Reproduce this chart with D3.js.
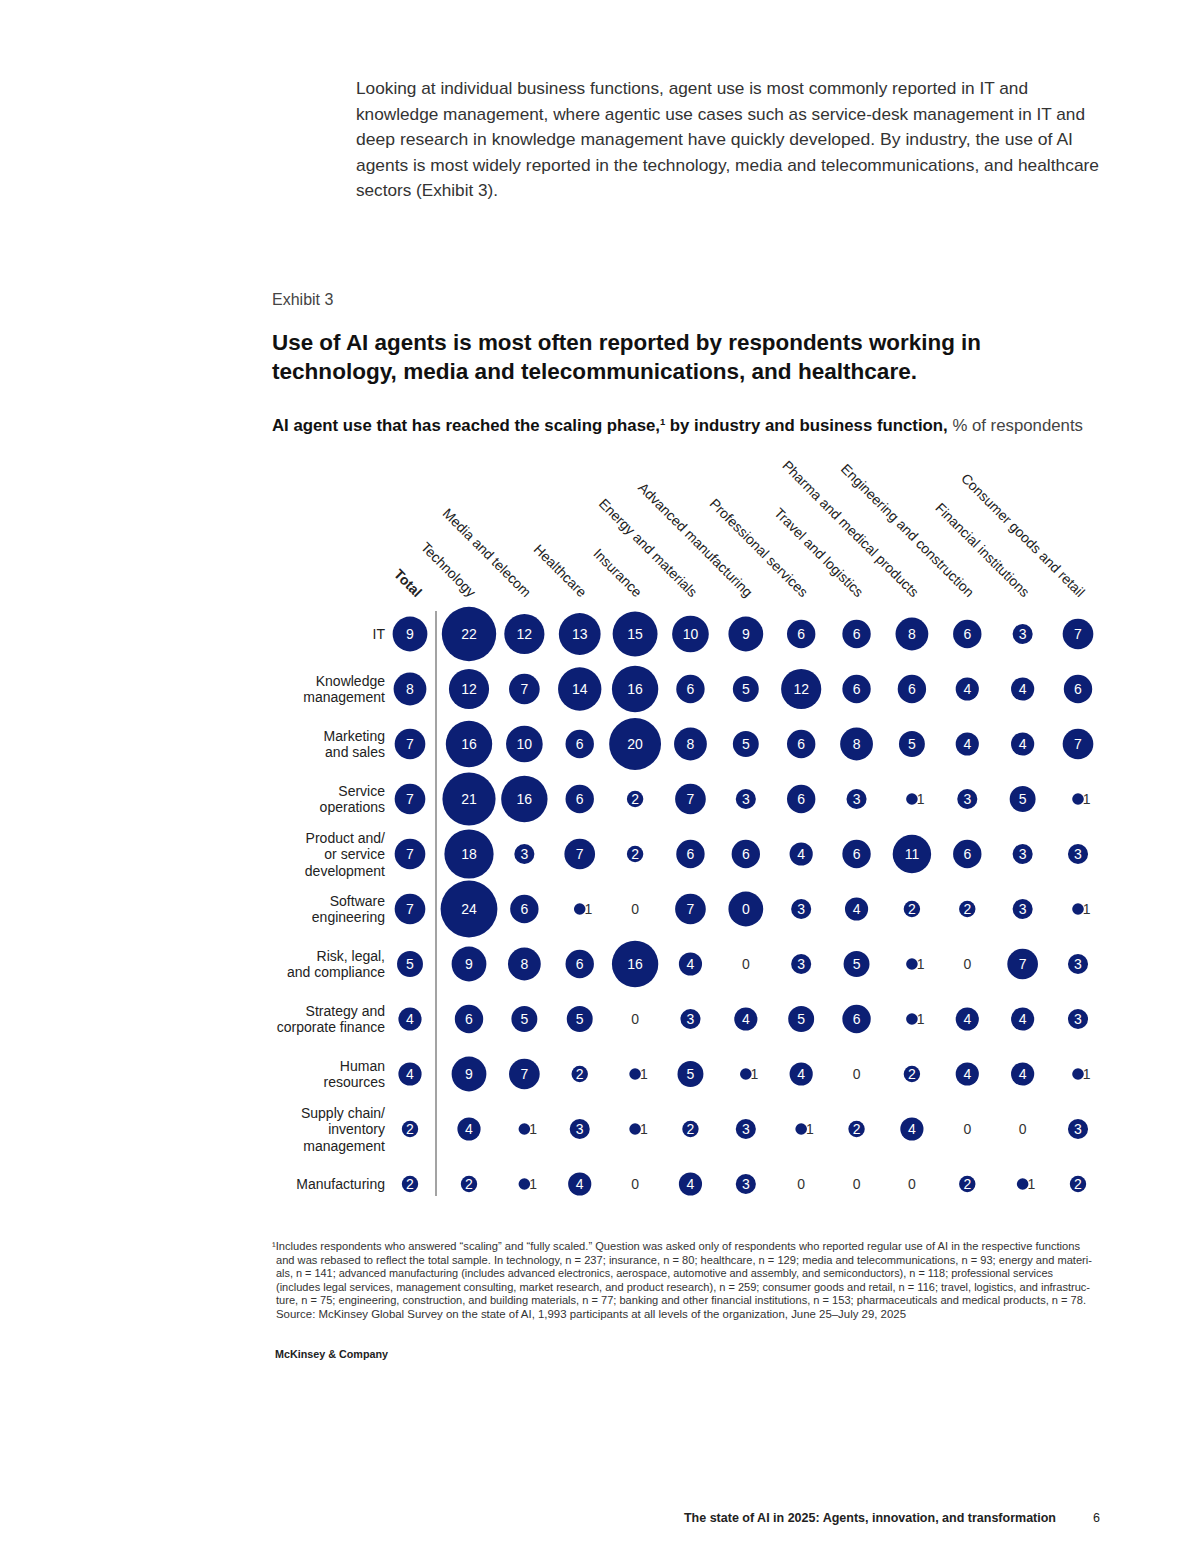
<!DOCTYPE html>
<html>
<head>
<meta charset="utf-8">
<script src="https://cdn.jsdelivr.net/npm/d3@7"></script>
<style>
  body { margin: 0; background: #fff; }
  svg { display: block; font-family: "Liberation Sans", Arial, sans-serif; }
</style>
</head>
<body>
<svg width="1200" height="1555"></svg>
<script>
// industries (columns) and business functions (rows)
const industries = ["Total", "Technology", "Media and telecom", "Healthcare", "Insurance",
  "Energy and materials", "Advanced manufacturing", "Professional services",
  "Travel and logistics", "Pharma and medical products", "Engineering and construction",
  "Financial institutions", "Consumer goods and retail"];

const functions = [
  ["IT"],
  ["Knowledge", "management"],
  ["Marketing", "and sales"],
  ["Service", "operations"],
  ["Product and/", "or service", "development"],
  ["Software", "engineering"],
  ["Risk, legal,", "and compliance"],
  ["Strategy and", "corporate finance"],
  ["Human", "resources"],
  ["Supply chain/", "inventory", "management"],
  ["Manufacturing"]
];

// % of respondents, one array per function, in industry order
const itVals        = [9, 22, 12, 13, 15, 10, 9, 6, 6, 8, 6, 3, 7];
const knowledgeVals = [8, 12, 7, 14, 16, 6, 5, 12, 6, 6, 4, 4, 6];
const marketingVals = [7, 16, 10, 6, 20, 8, 5, 6, 8, 5, 4, 4, 7];
const serviceVals   = [7, 21, 16, 6, 2, 7, 3, 6, 3, 1, 3, 5, 1];
const productVals   = [7, 18, 3, 7, 2, 6, 6, 4, 6, 11, 6, 3, 3];
const softwareVals  = [7, 24, 6, 1, 0, 7, 9, 3, 4, 2, 2, 3, 1];
const riskVals      = [5, 9, 8, 6, 16, 4, 0, 3, 5, 1, 0, 7, 3];
const strategyVals  = [4, 6, 5, 5, 0, 3, 4, 5, 6, 1, 4, 4, 3];
const hrVals        = [4, 9, 7, 2, 1, 5, 1, 4, 0, 2, 4, 4, 1];
const supplyVals    = [2, 4, 1, 3, 1, 2, 3, 1, 2, 4, 0, 0, 3];
const manufVals     = [2, 2, 1, 4, 0, 4, 3, 0, 0, 0, 2, 1, 2];
const values = [itVals, knowledgeVals, marketingVals, serviceVals, productVals, softwareVals,
  riskVals, strategyVals, hrVals, supplyVals, manufVals];

// printed label differs from bubble size in the original (software eng. / adv. manufacturing)
const labelOverrides = {"5-6": "0"};

const navy = "#0c1f74";
const svg = d3.select("svg");

// ---- intro paragraph
const para = [
  ["Looking at individual business functions, agent use is most commonly reported in IT and", 672],
  ["knowledge management, where agentic use cases such as service-desk management in IT and", 729],
  ["deep research in knowledge management have quickly developed. By industry, the use of AI", 717],
  ["agents is most widely reported in the technology, media and telecommunications, and healthcare", 743],
  ["sectors (Exhibit 3).", 142]
];
svg.append("g").selectAll("text").data(para).join("text")
  .attr("x", 356).attr("y", (d, i) => 94 + i * 25.5)
  .attr("font-size", 17).attr("fill", "#333")
  .attr("textLength", d => d[1]).attr("lengthAdjust", "spacingAndGlyphs")
  .text(d => d[0]);

svg.append("text").attr("x", 272).attr("y", 305)
  .attr("font-size", 16).attr("fill", "#444").text("Exhibit 3");

const title = [
  ["Use of AI agents is most often reported by respondents working in", 709],
  ["technology, media and telecommunications, and healthcare.", 645]
];
svg.append("g").selectAll("text").data(title).join("text")
  .attr("x", 272).attr("y", (d, i) => 350 + i * 29)
  .attr("font-size", 22).attr("font-weight", "bold").attr("fill", "#111")
  .attr("textLength", d => d[1]).attr("lengthAdjust", "spacingAndGlyphs")
  .text(d => d[0]);

const sub = svg.append("text").attr("x", 272).attr("y", 431)
  .attr("font-size", 16).attr("fill", "#111")
  .attr("textLength", 811).attr("lengthAdjust", "spacingAndGlyphs");
sub.append("tspan").attr("font-weight", "bold").text("AI agent use that has reached the scaling phase,");
sub.append("tspan").attr("font-weight", "bold").attr("font-size", 9).attr("dy", -6).text("1");
sub.append("tspan").attr("font-weight", "bold").attr("dy", 6).text(" by industry and business function,");
sub.append("tspan").attr("fill", "#444").text(" % of respondents");

// ---- scales: Total column sits apart, left of the divider
const xTotal = d3.scalePoint().domain(["Total"]).range([410, 410]);
const xInd = d3.scalePoint().domain(industries.slice(1)).range([469, 1078]);
const x = d => d === "Total" ? xTotal(d) : xInd(d);
const y = d3.scalePoint().domain(functions.map(d => d.join(" "))).range([634, 1184]);
const r = d3.scaleSqrt().domain([0, 24]).range([0, 28.4]);

// column headers
svg.append("g").selectAll("text").data(industries).join("text")
  .attr("transform", d => `translate(${x(d) + (d === "Total" ? 6 : 1)},598) rotate(45)`)
  .attr("text-anchor", "end")
  .attr("font-size", 14)
  .attr("font-weight", d => d === "Total" ? "bold" : "normal")
  .attr("fill", "#222")
  .text(d => d);

// row labels
const rowG = svg.append("g").selectAll("text").data(functions).join("text")
  .attr("text-anchor", "end").attr("font-size", 14).attr("fill", "#222");
rowG.each(function (lines) {
  const cy = y(lines.join(" "));
  const lh = 16.5;
  d3.select(this).selectAll("tspan").data(lines).join("tspan")
    .attr("x", 385)
    .attr("y", (l, i) => cy + 5 + (i - (lines.length - 1) / 2) * lh)
    .text(l => l);
});

// divider
svg.append("line").attr("x1", 436).attr("x2", 436).attr("y1", 611).attr("y2", 1196)
  .attr("stroke", "#666").attr("stroke-width", 1.2);

// cells
const cells = [];
values.forEach((row, ri) => row.forEach((v, ci) => cells.push({
  row: functions[ri].join(" "), col: industries[ci], v,
  label: labelOverrides[ri + "-" + ci] ?? String(v)
})));

const cellG = svg.append("g").selectAll("g").data(cells).join("g")
  .attr("transform", d => `translate(${x(d.col)},${y(d.row)})`);

cellG.filter(d => d.v > 0).append("circle")
  .attr("r", d => r(d.v)).attr("fill", navy);

cellG.append("text")
  .attr("x", d => d.v === 1 ? r(1) - 1 : 0)
  .attr("y", 5)
  .attr("text-anchor", d => d.v === 1 ? "start" : "middle")
  .attr("font-size", 14)
  .attr("fill", d => d.v > 1 ? "#fff" : "#333")
  .text(d => d.label);

// ---- footnote
const notes = [
  ["\u00b9Includes respondents who answered \u201cscaling\u201d and \u201cfully scaled.\u201d Question was asked only of respondents who reported regular use of AI in the respective functions", 272, 808],
  ["and was rebased to reflect the total sample. In technology, n = 237; insurance, n = 80; healthcare, n = 129; media and telecommunications, n = 93; energy and materi-", 276, 816],
  ["als, n = 141; advanced manufacturing (includes advanced electronics, aerospace, automotive and assembly, and semiconductors), n = 118; professional services", 276, 777],
  ["(includes legal services, management consulting, market research, and product research), n = 259; consumer goods and retail, n = 116; travel, logistics, and infrastruc-", 276, 814],
  ["ture, n = 75; engineering, construction, and building materials, n = 77; banking and other financial institutions, n = 153; pharmaceuticals and medical products, n = 78.", 276, 810],
  ["Source: McKinsey Global Survey on the state of AI, 1,993 participants at all levels of the organization, June 25\u2013July 29, 2025", 276, 630]
];
svg.append("g").selectAll("text").data(notes).join("text")
  .attr("x", d => d[1]).attr("y", (d, i) => 1250 + i * 13.5)
  .attr("font-size", 10.5).attr("fill", "#333")
  .attr("textLength", d => d[2]).attr("lengthAdjust", "spacingAndGlyphs")
  .text(d => d[0]);

svg.append("text").attr("x", 275).attr("y", 1358)
  .attr("font-size", 11).attr("font-weight", "bold").attr("fill", "#222")
  .attr("textLength", 113).attr("lengthAdjust", "spacingAndGlyphs")
  .text("McKinsey & Company");

svg.append("text").attr("x", 1056).attr("y", 1522).attr("text-anchor", "end")
  .attr("font-size", 12.5).attr("font-weight", "bold").attr("fill", "#222")
  .text("The state of AI in 2025: Agents, innovation, and transformation");
svg.append("text").attr("x", 1100).attr("y", 1522).attr("text-anchor", "end")
  .attr("font-size", 12.5).attr("fill", "#222").text("6");
</script>
</body>
</html>
